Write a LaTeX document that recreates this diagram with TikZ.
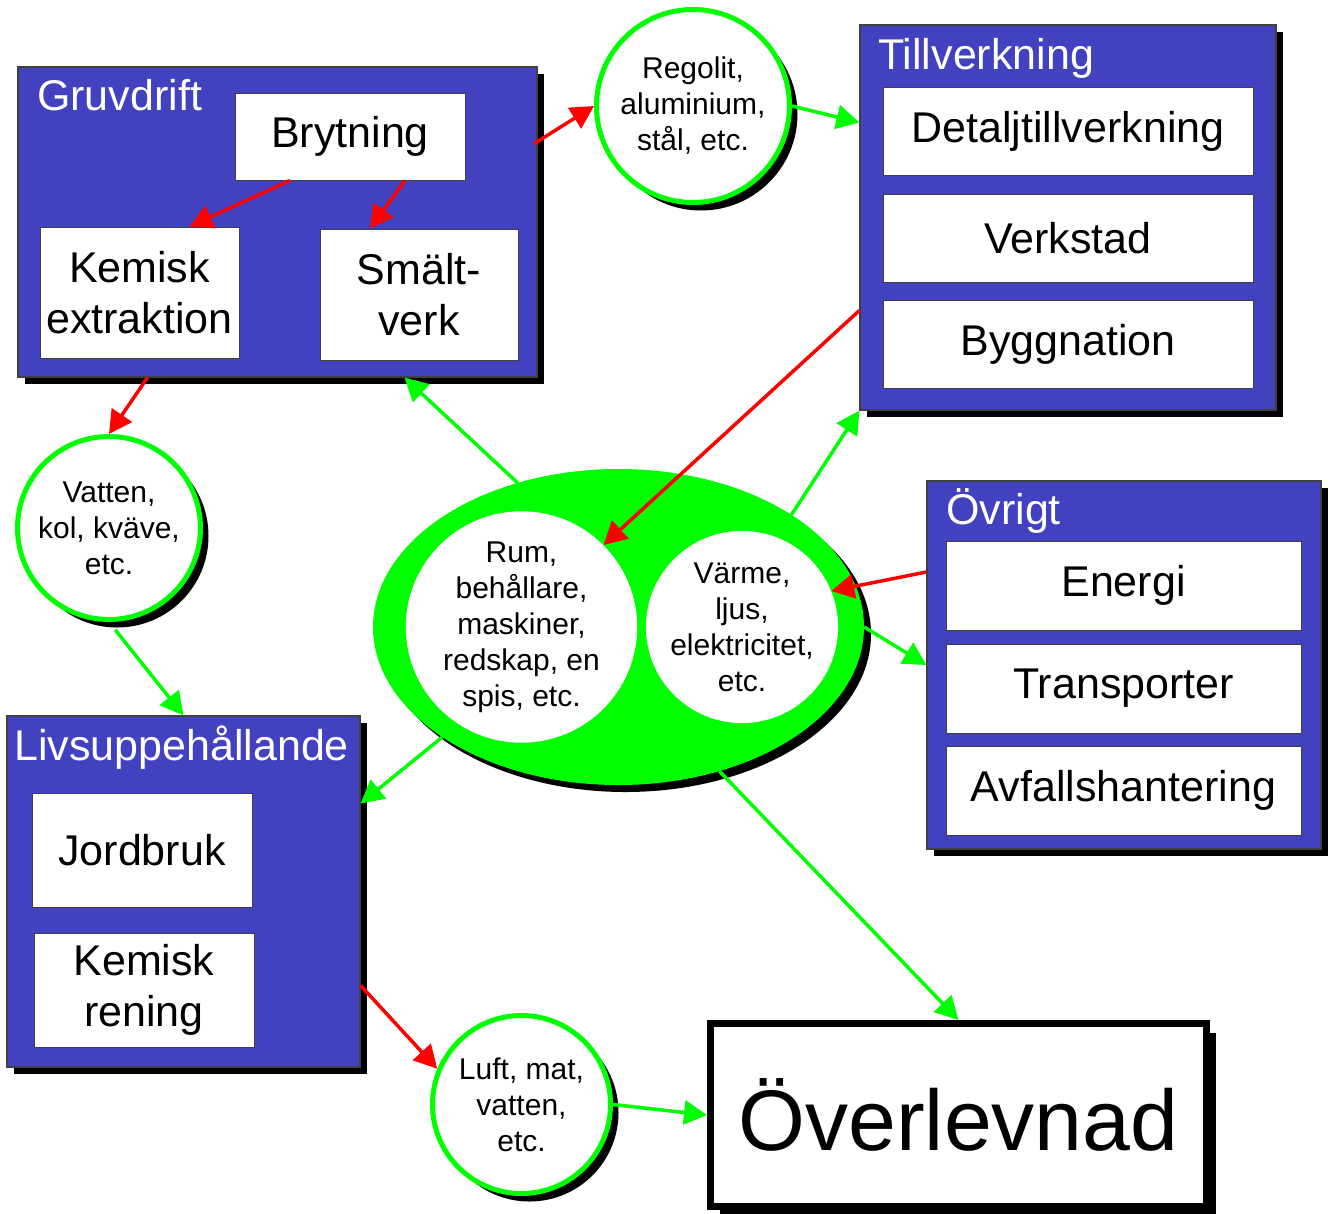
\documentclass[tikz,border=0pt]{standalone}
\usepackage{fontspec}
\setmainfont{Liberation Sans}
\usetikzlibrary{shapes.geometric,shadows,arrows.meta,calc}
\definecolor{panelblue}{RGB}{66,66,192}
\definecolor{brightgreen}{RGB}{0,255,0}

\begin{document}
\begin{tikzpicture}[x=1pt,y=-1pt,
  panel/.style={draw=black!75,line width=1.2pt,fill=panelblue,inner sep=0pt,drop shadow={shadow xshift=7pt,shadow yshift=-7pt,fill=black,opacity=1}},
  ptitle/.style={text=white,anchor=base west,inner sep=0pt,font=\fontsize{43}{50}\selectfont},
  item/.style={draw=black!75,line width=1pt,fill=white,inner sep=0pt,align=center,font=\fontsize{43}{51}\selectfont},
  res/.style={circle,draw=brightgreen,line width=5pt,fill=white,inner sep=0pt,align=center,font=\fontsize{30}{36}\selectfont,drop shadow={shadow xshift=8pt,shadow yshift=-8pt,fill=black,opacity=1}},
  hole/.style={circle,fill=white,inner sep=0pt,align=center,font=\fontsize{30}{36}\selectfont},
  core/.style={ellipse,fill=brightgreen,inner sep=0pt,drop shadow={shadow xshift=7pt,shadow yshift=-7pt,fill=black,opacity=1}},
  survbox/.style={draw=black,line width=7pt,fill=white,inner sep=0pt,font=\fontsize{86}{100}\selectfont,drop shadow={shadow xshift=9pt,shadow yshift=-9pt,fill=black,opacity=1}},
  redarr/.style={draw=red,line width=3.5pt,-{Triangle[length=23pt,width=24pt]}},
  greenarr/.style={draw=brightgreen,line width=3.5pt,-{Triangle[length=23pt,width=24pt]}}]
\useasboundingbox[fill=white] (0,0) rectangle (1330,1213);

\node[panel,minimum width=519,minimum height=310] (gruv) at (277.5,222) {};
\node[panel,minimum width=416,minimum height=385] (till) at (1068,217.5) {};
\node[panel,minimum width=394,minimum height=368] (ovr) at (1124,665) {};
\node[panel,minimum width=353,minimum height=351] (liv) at (183.5,891.5) {};

\node[ptitle] (gruvT) at (37,110) {Gruvdrift};
\node[ptitle] (tillT) at (878,69) {Tillverkning};
\node[ptitle] (ovrT) at (946,524) {Övrigt};
\node[ptitle] (livT) at (14,760) {Livsuppehållande};

\node[item,minimum width=230,minimum height=87] (bryt) at (350,136.5) {Brytning};
\node[item,minimum width=199,minimum height=131] (kem) at (139.5,292.5) {Kemisk\\extraktion};
\node[item,minimum width=198,minimum height=131] (smalt) at (419,294.5) {Smält-\\verk};
\node[item,minimum width=370,minimum height=88] (detalj) at (1068,131) {Detaljtillverkning};
\node[item,minimum width=370,minimum height=88] (verk) at (1068,238) {Verkstad};
\node[item,minimum width=370,minimum height=88] (bygg) at (1068,344) {Byggnation};
\node[item,minimum width=355,minimum height=89] (energi) at (1123.5,585.5) {Energi};
\node[item,minimum width=355,minimum height=89] (transp) at (1123.5,688.5) {Transporter};
\node[item,minimum width=355,minimum height=89] (avfall) at (1123.5,790.5) {Avfallshantering};
\node[item,minimum width=220,minimum height=114] (jord) at (142,850) {Jordbruk};
\node[item,minimum width=220,minimum height=114] (kemren) at (144,990) {Kemisk\\rening};

\node[res,minimum size=193] (reg) at (693,106) {Regolit,\\aluminium,\\stål, etc.};
\node[res,minimum size=183] (vat) at (109,528) {Vatten,\\kol, kväve,\\etc.};
\node[res,minimum size=178] (luft) at (521.5,1104.5) {Luft, mat,\\vatten,\\etc.};

\node[core,minimum width=491,minimum height=316] (ell) at (618.5,627) {};
\node[hole,minimum size=223] (rum) at (521.5,627) {Rum,\\behållare,\\maskiner,\\redskap, en\\spis, etc.};
\node[hole,minimum size=184] (varme) at (742,627) {Värme,\\ljus,\\elektricitet,\\etc.};

\node[survbox,minimum width=496,minimum height=183] (surv) at (958.5,1115) {Överlevnad};

\draw[redarr] ($(bryt.south)+(-60,0)$) -- ($(kem.north)+(50,0)$);
\draw[redarr] ($(bryt.south)+(55,0)$) -- ($(smalt.north)+(-49,0)$);
\draw[redarr] ($(gruv.east)+(-4,-78)$) -- (reg.west);
\draw[redarr] ($(gruv.south)+(-130,0)$) -- (vat.north);
\draw[redarr] ($(till.west)+(0,93)$) -- (rum.45);
\draw[redarr] ($(ovr.west)+(0,-93)$) -- (varme.22);
\draw[redarr] ($(liv.east)+(0,94)$) -- (luft.157);

\draw[greenarr] (reg.east) -- ($(till.west)+(0,-95)$);
\draw[greenarr] (ell.125) -- ($(gruv.south)+(127,0)$);
\draw[greenarr] (ell.33) -- (till.south west);
\draw[greenarr] (ell.east) -- (ovr.west);
\draw[greenarr] (ell.212) -- ($(liv.east)+(0,-88)$);
\draw[greenarr] (ell.305) -- (surv.north);
\draw[greenarr,shorten <=10pt] (vat.south) -- (liv.north);
\draw[greenarr] (luft.east) -- (surv.west);
\end{tikzpicture}
\end{document}
